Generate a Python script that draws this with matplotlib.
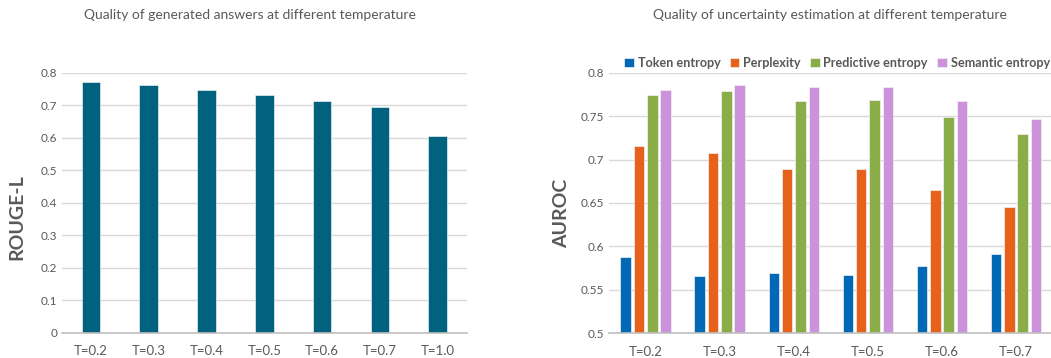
import matplotlib.pyplot as plt
import numpy as np

plt.rcParams['font.family'] = ['Lato', 'DejaVu Sans']

# Left chart data
temps_left = ["T=0.2", "T=0.3", "T=0.4", "T=0.5", "T=0.6", "T=0.7", "T=1.0"]
rouge_l = [0.771, 0.761, 0.747, 0.731, 0.714, 0.694, 0.605]

# Right chart data
temps_right = ["T=0.2", "T=0.3", "T=0.4", "T=0.5", "T=0.6", "T=0.7"]
token_entropy = [0.588, 0.566, 0.569, 0.567, 0.577, 0.591]
perplexity = [0.716, 0.708, 0.689, 0.689, 0.665, 0.645]
predictive_entropy = [0.774, 0.779, 0.767, 0.769, 0.749, 0.729]
semantic_entropy = [0.780, 0.786, 0.784, 0.783, 0.767, 0.747]

series_names = ["Token entropy", "Perplexity", "Predictive entropy", "Semantic entropy"]
series_colors = ["#0068B5", "#E8611A", "#8BAD47", "#CC93DC"]

TEXT = "#595959"
GRID = "#D9D9D9"


def style_axis(ax):
    for s in ["left", "right", "top"]:
        ax.spines[s].set_visible(False)
    ax.spines["bottom"].set_color("#BFBFBF")
    ax.spines["bottom"].set_linewidth(1.2)
    ax.grid(axis="y", color=GRID, linewidth=1.0)
    ax.set_axisbelow(True)
    ax.tick_params(axis="both", length=0, colors=TEXT, labelsize=8.5)
    ax.tick_params(axis="x", pad=9, labelsize=9.5)


def main():
    fig = plt.figure(figsize=(10.51, 3.58), dpi=100)

    # Left panel
    ax1 = fig.add_axes([0.059, 0.070, 0.385, 0.727])
    x1 = np.arange(len(temps_left))
    ax1.bar(x1, rouge_l, width=0.32, color="#00627F", edgecolor="#E6EEF2", linewidth=0.5)
    ax1.set_xlim(-0.5, len(temps_left) - 0.5)
    ax1.set_ylim(0, 0.8)
    ax1.set_yticks(np.arange(0, 0.81, 0.1))
    ax1.set_yticklabels(["0", "0.1", "0.2", "0.3", "0.4", "0.5", "0.6", "0.7", "0.8"])
    ax1.set_xticks(x1)
    ax1.set_xticklabels(temps_left)
    style_axis(ax1)
    fig.text(17 / 1051, 1 - 217 / 358, "ROUGE-L", rotation=90, ha="center", va="center",
             fontsize=14, fontweight="bold", color=TEXT)
    fig.text(250 / 1051, 0.958, "Quality of generated answers at different temperature",
             ha="center", va="center", fontsize=10, color=TEXT)

    # Right panel
    ax2 = fig.add_axes([0.579, 0.069, 0.423, 0.728])
    x2 = np.arange(len(temps_right))
    all_series = [token_entropy, perplexity, predictive_entropy, semantic_entropy]
    pitch = 0.18
    width = 0.142
    for i, (vals, name, col) in enumerate(zip(all_series, series_names, series_colors)):
        ax2.bar(x2 + (i - 1.5) * pitch, vals, width=width, color=col, label=name,
                edgecolor="#F2F2F2", linewidth=0.5)
    ax2.set_xlim(-0.5, len(temps_right) - 0.5)
    ax2.set_ylim(0.5, 0.8)
    ax2.set_yticks([0.5, 0.55, 0.6, 0.65, 0.7, 0.75, 0.8])
    ax2.set_yticklabels(["0.5", "0.55", "0.6", "0.65", "0.7", "0.75", "0.8"])
    ax2.set_xticks(x2)
    ax2.set_xticklabels(temps_right)
    style_axis(ax2)
    fig.text(562 / 1051, 1 - 213 / 358, "AUROC", rotation=90, ha="center", va="center",
             fontsize=14, fontweight="bold", color=TEXT)
    leg = ax2.legend(loc="center", bbox_to_anchor=(837 / 1051, 1 - 63 / 358),
                     bbox_transform=fig.transFigure,
                     ncol=4, frameon=False, handlelength=0.75, handleheight=0.75,
                     handletextpad=0.3, columnspacing=0.75, borderpad=0,
                     prop={"weight": "bold", "size": 9.1})
    for t in leg.get_texts():
        t.set_color(TEXT)
    fig.text(830 / 1051, 0.958, "Quality of uncertainty estimation at different temperature",
             ha="center", va="center", fontsize=10, color=TEXT)

    fig.savefig("out.png", dpi=100)
    plt.close(fig)


if __name__ == "__main__":
    main()
